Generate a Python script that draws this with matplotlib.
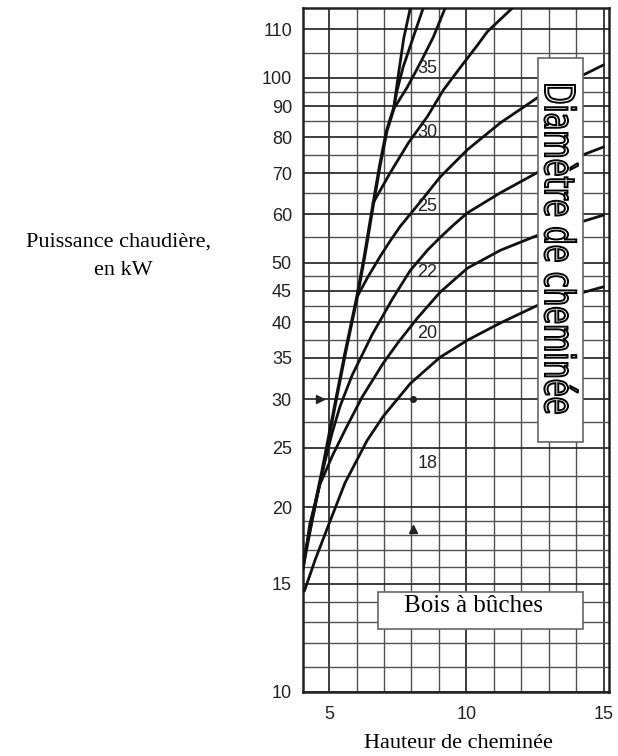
import matplotlib
matplotlib.use('Agg')
import matplotlib.pyplot as plt
from matplotlib.patches import Rectangle, PathPatch
from matplotlib.textpath import TextPath
from matplotlib.font_manager import FontProperties
from matplotlib.transforms import Affine2D
from matplotlib.ticker import NullFormatter

# --- data (x = hauteur en m, y = puissance en kW) ---
# steep common branch on the left, the other curves leave it
env_x = [4.05, 4.4, 4.74, 4.96, 5.22, 5.58, 6.02, 6.3, 6.6, 6.85, 7.1, 7.35]
env_y = [16.0, 19.3, 22.8, 25.6, 29.4, 35.5, 44.0, 51.5, 62.0, 72.0, 82.0, 89.0]

c8_x = [7.35, 7.55, 7.72, 7.96]
c8_y = [89, 103, 116, 130]
c7_x = [7.35, 7.48, 7.70, 8.07, 8.43]
c7_y = [89, 95.5, 104.2, 116.6, 130]
c6_x = [7.35, 7.85, 8.32, 8.80, 9.23]
c6_y = [89, 96.6, 105.7, 116.6, 130]
c5_x = [6.6, 7.22, 7.9, 8.58, 9.16, 9.78, 10.4, 10.77, 11.68]
c5_y = [62.5, 70, 78.5, 86.5, 95.5, 104, 113, 119, 130]
c4_x = [6.02, 6.4, 6.86, 7.23, 7.59, 8.32, 9.05, 10.04, 11.24, 12.63, 15.0]
c4_y = [44, 47.3, 51.2, 54.3, 57.3, 62.8, 69, 76.4, 84.5, 93.1, 105]
c3_x = [4.05, 4.7, 5.11, 5.4, 5.84, 6.57, 7.3, 7.96, 8.58, 9.05, 9.53, 10.04, 11.24, 12.63, 15.0]
c3_y = [16.2, 22.3, 26.4, 29.2, 32.8, 38.2, 43.6, 48.6, 52.4, 55.0, 57.6, 60.3, 65, 70.3, 77.2]
c2_x = [4.05, 4.3, 4.67, 5.13, 5.6, 6.2, 6.97, 7.5, 8.21, 9.05, 10.04, 11.24, 12.63, 15.0]
c2_y = [15.8, 18.8, 21.8, 24.3, 26.8, 30.2, 34.3, 37, 40.6, 44.8, 49.0, 52.4, 55.5, 59.8]
c1_x = [4.1, 4.49, 4.96, 5.58, 6.39, 6.97, 7.96, 9.05, 10.04, 11.24, 12.63, 15.0]
c1_y = [14.6, 16.4, 18.6, 21.9, 25.7, 28.1, 31.8, 35.1, 37.4, 39.9, 42.7, 45.7]

diam_labels = ['35', '30', '25', '22', '20', '18']
diam_y = [103.8, 81.4, 61.7, 48.3, 38.4, 23.6]
diam_x = 8.58

ytick_pos = [10, 15, 20, 25, 30, 35, 40, 45, 50, 60, 70, 80, 90, 100, 120]
ytick_lab = ['10', '15', '20', '25', '30', '35', '40', '45', '50', '60', '70', '80', '90', '100', '110']
ygrid_minor = [11, 12, 13, 14, 16, 17, 18, 19, 22.5, 27.5, 32.5, 37.5, 42.5, 47.5,
               55, 65, 75, 85, 95, 110]
xtick_pos = [5, 10, 15]
xgrid_minor = [6, 7, 8, 9, 11, 12, 13, 14]

fig = plt.figure(figsize=(6.18, 7.56), dpi=100)
ax = fig.add_axes([303/618, 64/756, 306/618, 684/756])
ax.set_yscale('log')
ax.set_xlim(4.05, 15.2)
ax.set_ylim(10, 130)

ax.set_yticks(ytick_pos, ytick_lab)
ax.set_yticks(ygrid_minor, minor=True)
ax.yaxis.set_minor_formatter(NullFormatter())
ax.set_xticks(xtick_pos, [str(v) for v in xtick_pos])
ax.set_xticks(xgrid_minor, minor=True)
ax.tick_params(which='both', length=0)
ax.tick_params(axis='y', pad=8, labelsize=13, labelcolor='#222222')
ax.tick_params(axis='x', pad=10, labelsize=13, labelcolor='#222222')
for lab in ax.get_xticklabels() + ax.get_yticklabels():
    lab.set_family('Liberation Sans')

ax.grid(which='major', color='#2e2e2e', lw=1.3)
ax.grid(which='minor', color='#505050', lw=1.0)
ax.set_axisbelow(True)
for s in ax.spines.values():
    s.set_linewidth(1.8)
    s.set_color('#222222')

kw = dict(color='#111111', lw=2.0, zorder=3, solid_capstyle='round', solid_joinstyle='round')
ax.plot(env_x, env_y, **dict(kw, lw=2.5))
for xs, ys in [(c8_x, c8_y), (c7_x, c7_y), (c6_x, c6_y), (c5_x, c5_y),
               (c4_x, c4_y), (c3_x, c3_y), (c2_x, c2_y), (c1_x, c1_y)]:
    ax.plot(xs, ys, **kw)

for lab, yv in zip(diam_labels, diam_y):
    ax.text(diam_x, yv, lab, ha='center', va='center', fontsize=13,
            family='Liberation Sans', color='#222222', zorder=4)

# reference marks
ax.plot(4.67, 30, marker='>', ms=5.5, color='#222222', zorder=4)
ax.plot(8.06, 30, marker='o', ms=4, color='#222222', zorder=4)
ax.plot(8.06, 18.4, marker='^', ms=5.5, color='#222222', zorder=4)

# white boxes
ax.add_patch(Rectangle((12.63, 25.5), 14.27 - 12.63, 107.8 - 25.5,
                       facecolor='white', edgecolor='#666666', lw=1.2, zorder=5))
ax.add_patch(Rectangle((6.79, 12.66), 14.27 - 6.79, 14.55 - 12.66,
                       facecolor='white', edgecolor='#666666', lw=1.2, zorder=5))
ax.text(10.25, 13.5, 'Bois à bûches', ha='center', va='baseline', fontsize=18,
        family='Liberation Serif', zorder=6)

# vertical hollow text in the right box (pixel coordinates)
tp = TextPath((0, 0), 'Diamètre de cheminée', size=100,
              prop=FontProperties(family='DejaVu Sans'))
bb = tp.get_extents()
su = 328 / bb.width
sv = 30 / 72.9
tr = Affine2D().translate(-bb.x0, 0).scale(su, sv).rotate_deg(-90).translate(545, 671)
fig.add_artist(PathPatch(tp, transform=tr, facecolor='white', edgecolor='black',
                         lw=1.4, zorder=10))

fig.text(118/618, 1 - 242/756, 'Puissance chaudière,', ha='center', va='center',
         fontsize=16, family='Liberation Serif')
fig.text(123/618, 1 - 270/756, 'en kW', ha='center', va='center',
         fontsize=16, family='Liberation Serif')
fig.text(458/618, 1 - 743/756, 'Hauteur de cheminée', ha='center', va='center',
         fontsize=16, family='Liberation Serif')

fig.savefig('out.png', dpi=100)
